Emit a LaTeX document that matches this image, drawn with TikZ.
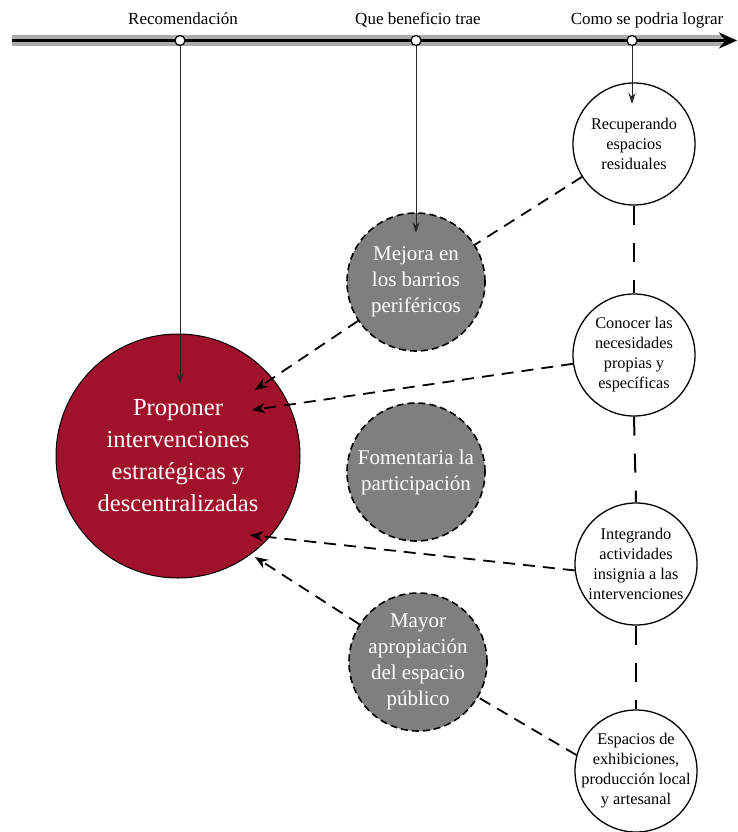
\documentclass[tikz,border=0pt]{standalone}
\usepackage{fontspec}
\setmainfont{Liberation Serif}
\usetikzlibrary{arrows.meta}
\definecolor{recred}{HTML}{A0122B}
\definecolor{benegray}{HTML}{7F7F7F}
\definecolor{bandgray}{HTML}{ABABAB}
\begin{document}
\begin{tikzpicture}[x=1pt,y=-1pt,
  tick/.style={circle,draw=black,fill=white,line width=1.2pt,minimum size=10pt,inner sep=0pt},
  head/.style={font=\fontsize{17}{20}\selectfont,anchor=base},
  recnode/.style={circle,draw=black,line width=1pt,fill=recred,minimum size=244pt,inner sep=0pt},
  benenode/.style={circle,draw=black,dash pattern=on 7pt off 4pt,line width=1.6pt,fill=benegray,minimum size=138pt,inner sep=0pt},
  hownode/.style={circle,draw=black,line width=1.3pt,fill=white,minimum size=122pt,inner sep=0pt},
  rectext/.style={text=white,align=center,font=\fontsize{24.5}{32}\selectfont},
  benetext/.style={text=white,align=center,font=\fontsize{21}{26}\selectfont},
  howtext/.style={text=black,align=center,font=\fontsize{16.3}{20}\selectfont},
  drop/.style={draw=black!85,line width=1pt,-{Stealth[length=11pt,width=7pt]}},
  conn/.style={draw=black,line width=1.8pt,dash pattern=on 12pt off 8pt},
  connarr/.style={conn,-{Stealth[length=13pt,width=10pt]}},
  chain/.style={draw=black,line width=2pt,dash pattern=on 19pt off 18pt}
]
\useasboundingbox (0,0) rectangle (738,832);
% timeline
\fill[bandgray] (12,35) rectangle (722,46);
\coordinate (tlstart) at (12,40.5);
\coordinate (tlend) at (737,40.5);
\draw[line width=3pt,-{Stealth[length=18pt,width=16pt]}] (tlstart) -- (tlend);
\node[tick] (t1) at (180,40.5) {};
\node[tick] (t2) at (416,40.5) {};
\node[tick] (t3) at (632,40.5) {};
\node[head] (h1) at (183,25) {Recomendación};
\node[head] (h2) at (418,25) {Que beneficio trae};
\node[head] (h3) at (647,25) {Como se podria lograr};
% main nodes
\node[recnode,label={[rectext]center:Proponer\\intervenciones\\estratégicas y\\descentralizadas}] (red) at (178,456) {};
\node[benenode,label={[benetext]center:Mejora en\\los barrios\\periféricos}] (mej) at (416,282) {};
\node[benenode,label={[benetext]center:Fomentaria la\\participación}] (fom) at (416,472) {};
\node[benenode,label={[benetext]center:Mayor\\apropiación\\del espacio\\público}] (may) at (418,662) {};
\node[hownode,label={[howtext]center:Recuperando\\espacios\\residuales}] (rec) at (634,144) {};
\node[hownode,label={[howtext]center:Conocer las\\necesidades\\propias y\\específicas}] (con) at (634,355) {};
\node[hownode,label={[howtext]center:Integrando\\actividades\\insignia a las\\intervenciones}] (int) at (636,564) {};
\node[hownode,label={[howtext]center:Espacios de\\exhibiciones,\\producción local\\y artesanal}] (esp) at (636,771) {};
% drop lines
\coordinate (v1) at (180,384);
\coordinate (v2) at (416,233);
\coordinate (v3) at (632,104);
\draw[drop] (t1) -- (v1);
\draw[drop] (t2) -- (v2);
\draw[drop] (t3) -- (v3);
% chain between right circles
\draw[chain] (rec.south) -- (con.north);
\draw[chain] (con.south) -- (int.north);
\draw[chain] (int.south) -- (esp.north);
% dashed connectors
\coordinate (a1) at (255,390);
\coordinate (a2) at (252,410);
\coordinate (a3) at (250,535);
\coordinate (a4) at (255,557);
\draw[conn] (rec) -- (mej);
\draw[connarr] (mej) -- (a1);
\draw[connarr] (con) -- (a2);
\draw[connarr] (int.186) -- (a3);
\draw[connarr] (may) -- (a4);
\draw[conn] (esp.165) -- (may);
\end{tikzpicture}
\end{document}
